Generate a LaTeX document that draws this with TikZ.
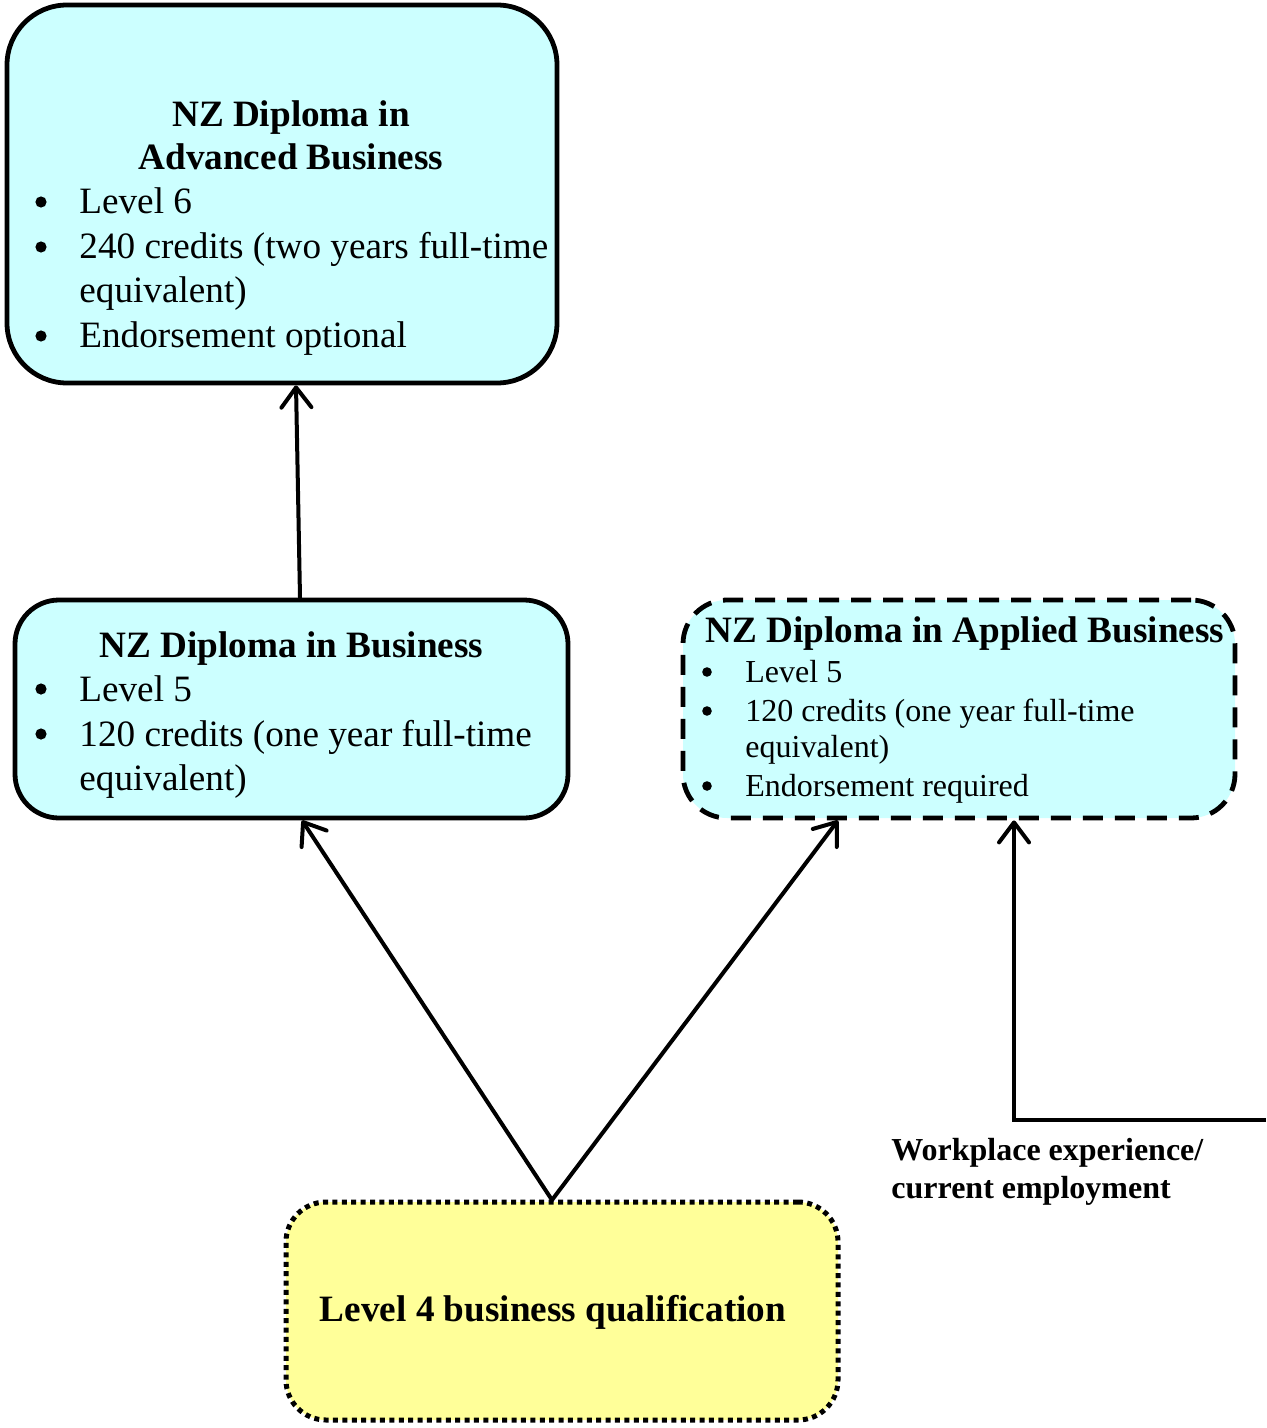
\documentclass[tikz,border=0pt]{standalone}
\usepackage{fontspec}
\setmainfont{Liberation Serif}
\usetikzlibrary{arrows.meta}
\definecolor{boxcyan}{HTML}{CCFFFF}
\definecolor{boxyellow}{HTML}{FFFF99}
\begin{document}
\begin{tikzpicture}[x=0.5pt,y=-0.5pt,
  box/.style={draw=black, line width=2.4pt, inner sep=0pt},
  titletext/.style={anchor=base, inner sep=0pt, font=\fontsize{18.6}{22}\selectfont\bfseries},
  itemtext/.style={anchor=base west, inner sep=0pt, font=\fontsize{18.6}{22}\selectfont},
  dotmark/.style={circle, fill=black, inner sep=0pt, minimum size=5.6pt},
  smallitem/.style={anchor=base west, inner sep=0pt, font=\fontsize{16}{19}\selectfont},
  smalldot/.style={circle, fill=black, inner sep=0pt, minimum size=4.8pt},
  labeltext/.style={anchor=base west, inner sep=0pt, font=\fontsize{16}{19}\selectfont\bfseries},
  arr/.style={line width=2pt, line cap=round, -{Straight Barb[length=10pt,width=15pt,round]}}
]
\useasboundingbox (0,0) rectangle (1266,1428);

% boxes
\node[box, fill=boxcyan, rounded corners=30pt, minimum width=275pt, minimum height=189pt] (A) at (282,194) {};
\node[box, fill=boxcyan, rounded corners=22pt, minimum width=276.5pt, minimum height=109pt] (B) at (291.5,709) {};
\node[box, fill=boxcyan, rounded corners=22pt, dash pattern=on 10pt off 6pt, minimum width=276pt, minimum height=109pt] (C) at (959,709) {};
\node[box, fill=boxyellow, rounded corners=20pt, line width=2.5pt, dash pattern=on 2.5pt off 2.2pt, minimum width=276pt, minimum height=109pt] (D) at (562,1311) {};

% box A text
\node[titletext] (At1) at (291,127) {NZ Diploma in};
\node[titletext] (At2) at (291,170) {Advanced Business};
\node[dotmark] (Ad1) at (41,202) {};
\node[itemtext] (Ai1) at (79,214) {Level 6};
\node[dotmark] (Ad2) at (41,247) {};
\node[itemtext] (Ai2) at (79,259) {240 credits (two years full-time};
\node[itemtext] (Ai3) at (79,303) {equivalent)};
\node[dotmark] (Ad3) at (41,336) {};
\node[itemtext] (Ai4) at (79,348) {Endorsement optional};

% box B text
\node[titletext] (Bt1) at (291.5,657) {NZ Diploma in Business};
\node[dotmark] (Bd1) at (41,689) {};
\node[itemtext] (Bi1) at (79,701) {Level 5};
\node[dotmark] (Bd2) at (41,734) {};
\node[itemtext] (Bi2) at (79,746) {120 credits (one year full-time};
\node[itemtext] (Bi3) at (79,790) {equivalent)};

% box C text
\node[titletext] (Ct1) at (965,642) {NZ Diploma in Applied Business};
\node[smalldot] (Cd1) at (707,672) {};
\node[smallitem] (Ci1) at (745,682) {Level 5};
\node[smalldot] (Cd2) at (707,711) {};
\node[smallitem] (Ci2) at (745,721) {120 credits (one year full-time};
\node[smallitem] (Ci3) at (745,757) {equivalent)};
\node[smalldot] (Cd3) at (707,786) {};
\node[smallitem] (Ci4) at (745,796) {Endorsement required};

% box D text
\node[titletext] (Dt1) at (553,1321) {Level 4 business qualification};

% label
\node[labeltext] (W1) at (891,1160) {Workplace experience/};
\node[labeltext] (W2) at (891,1198) {current employment};

% connectors
\coordinate (src) at (552,1200);
\coordinate (edge) at (1266,1120);
\coordinate (bend) at (1014,1120);
\draw[arr] (300,0 |- B.north) -- (296,0 |- A.south);
\draw[arr] (src) -- (302,0 |- B.south);
\draw[arr] (src) -- (838,0 |- C.south);
\draw[arr, line cap=butt] (edge) -- (bend) -- (1014,0 |- C.south);
\end{tikzpicture}
\end{document}
